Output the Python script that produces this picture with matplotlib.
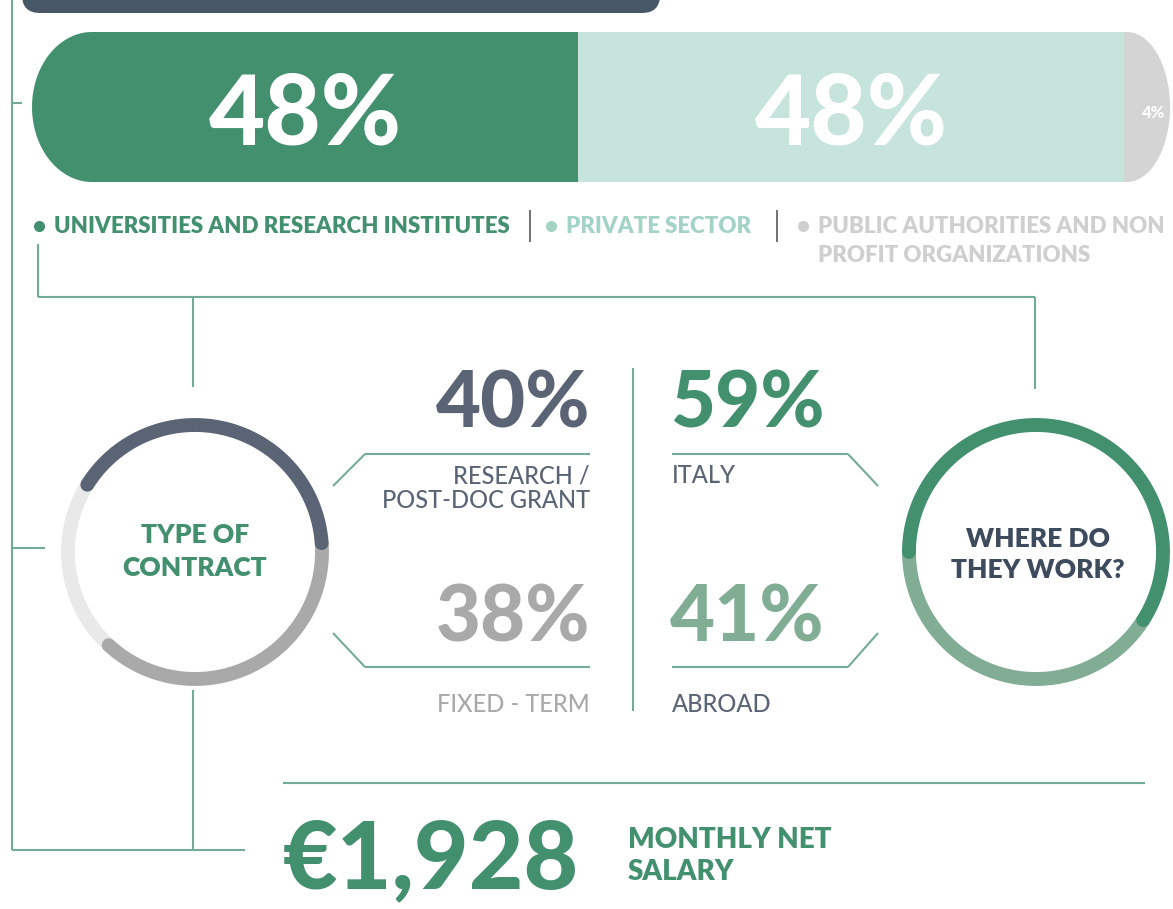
import numpy as np
import matplotlib.pyplot as plt
from matplotlib.patches import FancyBboxPatch, Polygon

sector_labels = ['UNIVERSITIES AND RESEARCH INSTITUTES', 'PRIVATE SECTOR',
                 'PUBLIC AUTHORITIES AND NON\nPROFIT ORGANIZATIONS']
sector_share = [48, 48, 4]
contract_labels = ['RESEARCH /\nPOST-DOC GRANT', 'FIXED - TERM', 'OTHER']
contract_share = [40, 38, 22]
location_labels = ['ITALY', 'ABROAD']
location_share = [59, 41]
salary = 1928

# colours
GREEN = '#43906f'
TEAL = '#c6e4dc'
GREY = '#d4d4d4'
SLATE = '#5b6475'
MIDGREY = '#a9a9a9'
LIGHTGREY = '#e9e9e9'
LIGHTGREEN = '#80ad94'
LINE = '#74ab98'
DARKBAR = '#485767'
FONT = 'Lato'

W, H = 1173, 909
fig = plt.figure(figsize=(W / 100, H / 100), dpi=100)
ax = fig.add_axes([0, 0, 1, 1])
ax.set_xlim(0, W)
ax.set_ylim(H, 0)
ax.axis('off')


def line(xs, ys, color=LINE, lw=1.5):
    ax.plot(xs, ys, color=color, lw=lw, solid_capstyle='butt')


def label(x, y, s, step=0, **kw):
    # one text per line, each placed on its own baseline
    for k, part in enumerate(s.split('\n')):
        ax.text(x, y + k * step, part, family=FONT, va='baseline', **kw)


# top dark banner (cut off by the frame)
ax.add_patch(FancyBboxPatch((22, -60), 638, 73, boxstyle='round,pad=0,rounding_size=18',
                            fc=DARKBAR, ec='none'))

# 1. stacked share bar with rounded ends
bax = fig.add_axes([32 / W, 1 - 182 / H, 1138 / W, 150 / H])
bax.set_xlim(0, sum(sector_share))
bax.set_ylim(0, 1)
bax.axis('off')
lefts = np.cumsum([0] + sector_share[:-1])
bars = bax.barh(0.5, sector_share, left=lefts, height=1.0,
                color=[GREEN, TEAL, GREY], edgecolor='none')

rxl, rxr = 60 / 1138, 43 / 1138
t1 = np.linspace(np.pi / 2, 3 * np.pi / 2, 80)
t2 = np.linspace(-np.pi / 2, np.pi / 2, 80)
verts = np.vstack([np.column_stack([rxl + rxl * np.cos(t1), 0.5 + 0.5 * np.sin(t1)]),
                   np.column_stack([1 - rxr + rxr * np.cos(t2), 0.5 + 0.5 * np.sin(t2)])])
clip = Polygon(verts, closed=True, transform=bax.transAxes)
for b in bars:
    b.set_clip_path(clip)

for l, s in zip(lefts, sector_share):
    big = s > 10
    bax.text(l + s / 2 + (0 if big else 0.6), 0.247 if big else 0.43, f'{s}%',
             color='white', fontsize=70 if big else 12, fontweight='black',
             family=FONT, ha='center', va='baseline')

# legend row
leg_x = [39, 551, 803]
leg_col = [GREEN, '#a3d3c5', '#cfcfcf']
for x, lab, c in zip(leg_x, sector_labels, leg_col):
    ax.plot(x, 226, 'o', ms=8, color=c, mec='none')
    label(x + 15, 233, lab, step=29, color=c, fontsize=16, fontweight='heavy')
for x in (530, 777):
    line([x, x], [210, 242], color='#666666', lw=1.3)

# connector lines
line([12, 12], [0, 850])
line([12, 22], [103, 103])
line([12, 45], [548, 548])
line([12, 245], [850, 850])
line([193, 193], [690, 850])
line([38, 38], [244, 297])
line([38, 1035], [297, 297])
line([193, 193], [297, 387])
line([1035, 1035], [297, 389])
line([283, 1145], [783, 783])
line([633, 633], [368, 711])


# 2. donut rings with rounded arc ends
def ring(cx, cy, r, shares, colors, start):
    starts = start - 3.6 * np.cumsum([0] + shares[:-1])
    for st, s, c in list(zip(starts, shares, colors))[::-1]:
        th = np.radians(np.linspace(st, st - 3.6 * s, 200))
        ax.plot(cx + r * np.cos(th), cy - r * np.sin(th), color=c, lw=10,
                solid_capstyle='round')


ring(195, 552, 127, contract_share, [SLATE, MIDGREY, LIGHTGREY], 148)
ring(1036, 552, 127, location_share, [GREEN, LIGHTGREEN], 180)

label(195, 543, 'TYPE OF\nCONTRACT', step=33, color=GREEN, fontsize=19,
      fontweight='heavy', ha='center')
label(1038, 547, 'WHERE DO\nTHEY WORK?', step=31, color='#3e4b5d', fontsize=19,
      fontweight='heavy', ha='center')

# middle figures: contract on the left, location on the right
for share, lab, col, y0 in [(contract_share[0], contract_labels[0], SLATE, 0),
                            (contract_share[1], contract_labels[1], MIDGREY, 213)]:
    ax.text(590, 428 + y0, f'{share}%', color=col, fontsize=56, fontweight='black',
            family=FONT, ha='right', va='baseline')
    yl = 454 + y0
    line([590, 365], [yl, yl])
    line([365, 333], [yl, 486 if y0 == 0 else yl - 34])
    label(590, 483 + y0 + (16 if y0 else 0), lab, step=25, color=col if y0 else SLATE,
          fontsize=17, fontweight='medium', ha='right')

for share, lab, col, y0 in [(location_share[0], location_labels[0], GREEN, 0),
                            (location_share[1], location_labels[1], LIGHTGREEN, 213)]:
    ax.text(670, 428 + y0, f'{share}%', color=col, fontsize=56, fontweight='black',
            family=FONT, ha='left', va='baseline')
    yl = 454 + y0
    line([672, 848], [yl, yl])
    line([848, 878], [yl, 486 if y0 == 0 else yl - 34])
    label(672, 483 + y0 + (16 if y0 else 0), lab, color=SLATE, fontsize=17,
          fontweight='medium', ha='left')

# 3. salary
ax.text(283, 888, f'€{salary:,}', color=GREEN, fontsize=68, fontweight='black',
        family=FONT, ha='left', va='baseline')
label(628, 848, 'MONTHLY NET\nSALARY', step=32, color=GREEN, fontsize=20,
      fontweight='heavy', ha='left')

fig.savefig('out.png', dpi=100, facecolor='white')
